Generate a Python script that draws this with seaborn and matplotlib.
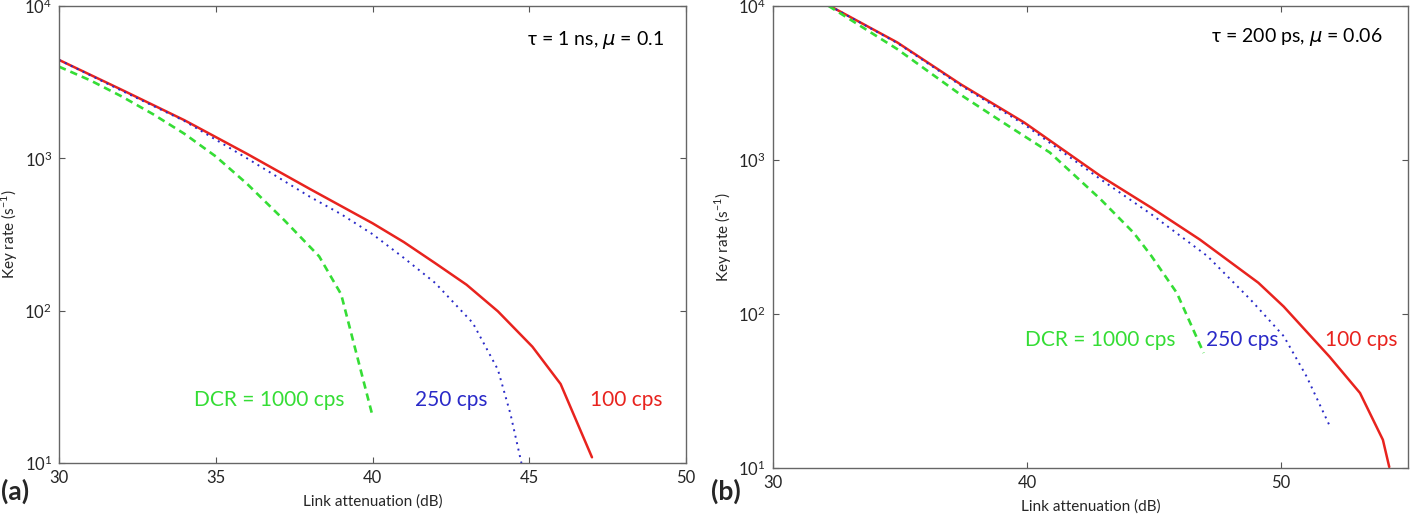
import numpy as np
import pandas as pd
import seaborn as sns
import matplotlib
matplotlib.use("Agg")
import matplotlib.pyplot as plt
from matplotlib.ticker import NullLocator, LogLocator

# panel (a): tau = 1 ns, mu = 0.1
a_red_x = [30, 32, 34, 36, 38, 40, 41, 42, 43, 44, 45.1, 46.0, 47.0]
a_red_y = [4430, 2820, 1780, 1070, 630, 375, 282, 205, 148, 99, 58, 33, 10.9]
a_blue_x = [30, 32, 34, 36, 38, 39, 40, 41, 42, 43.2, 44.0, 44.4, 44.75]
a_blue_y = [4430, 2780, 1760, 1000, 560, 430, 318, 222, 152, 83, 41, 21, 10]
a_green_x = [30, 31, 32, 33, 34, 35, 36, 37.2, 38.3, 39.0, 40.0]
a_green_y = [4000, 3250, 2550, 1950, 1450, 1030, 680, 390, 227, 128, 20.4]

# panel (b): tau = 200 ps, mu = 0.06
b_red_x = [32.25, 34.9, 37.4, 39.9, 42.9, 44.9, 46.8, 49.1, 50.1, 51.9, 53.1, 54.0, 54.25]
b_red_y = [10000, 5800, 3100, 1750, 787, 490, 305, 160, 112, 53, 30.8, 15.3, 10.2]
b_blue_x = [32.25, 34.9, 37.4, 39.9, 42.9, 44.9, 47.1, 48.8, 50.1, 51.0, 51.95]
b_blue_y = [10000, 5750, 3050, 1700, 750, 444, 238, 124, 72, 39.4, 18.2]
b_green_x = [32.2, 34.9, 37.4, 39.0, 40.9, 42.9, 44.2, 44.9, 45.9, 46.95]
b_green_y = [10000, 5250, 2650, 1780, 1120, 556, 337, 238, 137, 56]

xticks_a = [30, 35, 40, 45, 50]
xticks_b = [30, 40, 50]

RED = "#e8231e"
BLUE = "#2a2ac8"
GREEN = "#35dd35"

sns.set_style("ticks")
plt.rcParams["font.family"] = ["Lato", "DejaVu Sans"]
plt.rcParams["mathtext.fontset"] = "dejavusans"

fig = plt.figure(figsize=(14.11, 5.19), dpi=100)
ax_a = fig.add_axes([0.0418, 0.1079, 0.4444, 0.8805])
ax_b = fig.add_axes([0.5476, 0.0977, 0.4505, 0.8908])


def draw(ax, rx, ry, bx, by, gx, gy):
    sns.lineplot(x=rx, y=ry, ax=ax, color=RED, linewidth=1.8, sort=False)
    sns.lineplot(x=bx, y=by, ax=ax, color=BLUE, linewidth=1.4, sort=False,
                 linestyle=(0, (1, 2.4)))
    sns.lineplot(x=gx, y=gy, ax=ax, color=GREEN, linewidth=1.9, sort=False,
                 linestyle=(0, (2.8, 1.9)))


def style(ax, xlim, xticks):
    ax.set_yscale("log")
    ax.set_ylim(10, 1e4)
    ax.set_xlim(*xlim)
    ax.set_xticks(xticks)
    ax.yaxis.set_major_locator(LogLocator(base=10, numticks=5))
    ax.yaxis.set_minor_locator(NullLocator())
    ax.tick_params(direction="in", length=4, width=0.8, color="#555555",
                   top=True, right=True, labelsize=12, pad=5)
    for s in ax.spines.values():
        s.set_color("#666666")
        s.set_linewidth(1.0)
    ax.set_xlabel("Link attenuation (dB)", fontsize=11, labelpad=6)
    ax.set_ylabel("Key rate (s$^{\\mathdefault{-1}}$)", fontsize=11, labelpad=3)


draw(ax_a, a_red_x, a_red_y, a_blue_x, a_blue_y, a_green_x, a_green_y)
style(ax_a, (30, 50), xticks_a)
ax_a.text(36.7, 26, "DCR = 1000 cps", color=GREEN, fontsize=15, ha="center", va="center")
ax_a.text(42.5, 26, "250 cps", color=BLUE, fontsize=15, ha="center", va="center")
ax_a.text(48.1, 26, "100 cps", color=RED, fontsize=15, ha="center", va="center")
ax_a.text(49.3, 6000, "τ = 1 ns, $\\mu$ = 0.1", color="black", fontsize=14,
          ha="right", va="center")

draw(ax_b, b_red_x, b_red_y, b_blue_x, b_blue_y, b_green_x, b_green_y)
style(ax_b, (30, 55), xticks_b)
ax_b.text(42.9, 68, "DCR = 1000 cps", color=GREEN, fontsize=15, ha="center", va="center")
ax_b.text(48.45, 68, "250 cps", color=BLUE, fontsize=15, ha="center", va="center")
ax_b.text(53.15, 68, "100 cps", color=RED, fontsize=15, ha="center", va="center")
ax_b.text(54.0, 6300, "τ = 200 ps, $\\mu$ = 0.06", color="black", fontsize=14,
          ha="right", va="center")

fig.text(0.001, 0.054, "(a)", fontsize=19, fontweight="bold", ha="left", va="center")
fig.text(0.504, 0.054, "(b)", fontsize=19, fontweight="bold", ha="left", va="center")

fig.savefig("out.png", dpi=100)
